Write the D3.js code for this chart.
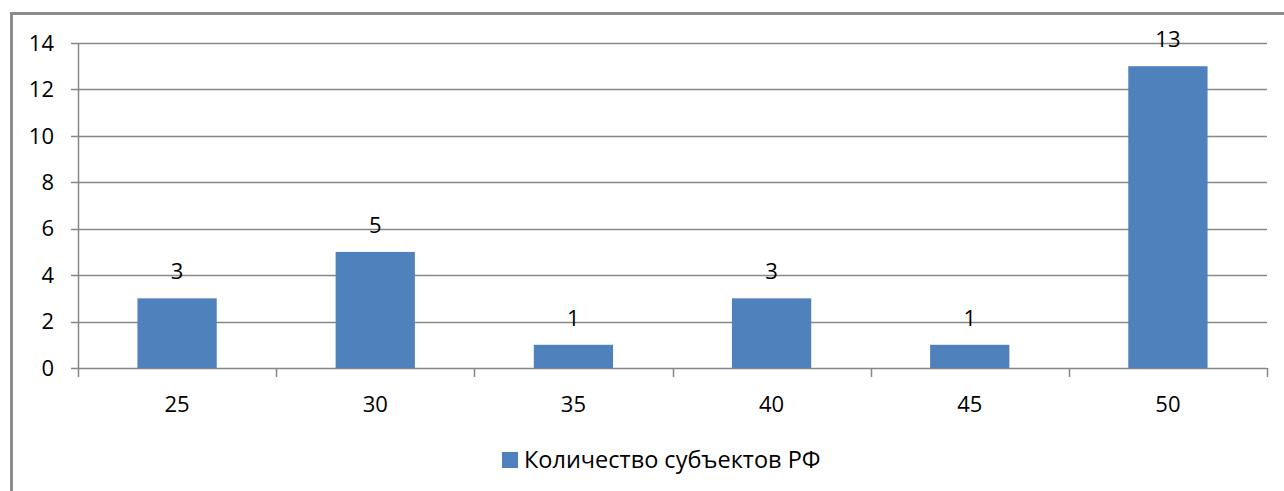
<!DOCTYPE html>
<html>
<head>
<meta charset="utf-8">
<script src="https://cdn.jsdelivr.net/npm/d3@7"></script>
<style>
  body { margin: 0; background: #fff; }
  text { font-family: "Open Sans", sans-serif; fill: #000; }
</style>
</head>
<body>
<script>
// chart data
var categories = ["25", "30", "35", "40", "45", "50"];
var values     = [3, 5, 1, 3, 1, 13];
var yTicks     = [0, 2, 4, 6, 8, 10, 12, 14];
var seriesName = "Количество субъектов РФ";

var width  = 1284;
var height = 491;

var svg = d3.select("body").append("svg")
  .attr("width", width)
  .attr("height", height);

// outer chart frame (only left and top visible, the rest is cut off)
svg.append("path")
  .attr("d", "M11.5,491 V13.5 H1284")
  .attr("fill", "none")
  .attr("stroke", "#8c8c8c")
  .attr("stroke-width", 3);

var plotLeft = 78, plotRight = 1267, plotTop = 43, plotBottom = 368;

var x = d3.scaleBand()
  .domain(categories)
  .range([plotLeft, plotRight])
  .paddingInner(0.6)
  .paddingOuter(0.3);

var y = d3.scaleLinear()
  .domain([0, 14])
  .range([plotBottom, plotTop]);

// gridlines
svg.append("g")
  .selectAll("line")
  .data(yTicks)
  .enter().append("line")
  .attr("x1", plotLeft - 7)
  .attr("x2", plotRight)
  .attr("y1", function(d) { return Math.round(y(d)) + 0.5; })
  .attr("y2", function(d) { return Math.round(y(d)) + 0.5; })
  .attr("stroke", "#878787")
  .attr("stroke-width", 1.5);

// y labels
svg.append("g")
  .selectAll("text")
  .data(yTicks)
  .enter().append("text")
  .attr("x", 54)
  .attr("y", function(d) { return y(d); })
  .attr("dy", "0.35em")
  .attr("text-anchor", "end")
  .style("font-size", "22px")
  .text(function(d) { return d; });

// bars
svg.append("g")
  .selectAll("rect")
  .data(values)
  .enter().append("rect")
  .attr("x", function(d, i) { return x(categories[i]); })
  .attr("y", function(d) { return y(d); })
  .attr("width", x.bandwidth())
  .attr("height", function(d) { return plotBottom - y(d); })
  .attr("fill", "#4f81bd");

// value labels
svg.append("g")
  .selectAll("text")
  .data(values)
  .enter().append("text")
  .attr("x", function(d, i) { return x(categories[i]) + x.bandwidth() / 2; })
  .attr("y", function(d) { return y(d) - 19; })
  .attr("text-anchor", "middle")
  .style("font-size", "22px")
  .text(function(d) { return d; });

// axis lines
var step = (plotRight - plotLeft) / categories.length;
svg.append("line")
  .attr("x1", plotLeft + 0.5).attr("x2", plotLeft + 0.5)
  .attr("y1", plotTop).attr("y2", plotBottom + 9)
  .attr("stroke", "#878787").attr("stroke-width", 1.5);

svg.append("g")
  .selectAll("line")
  .data(d3.range(categories.length))
  .enter().append("line")
  .attr("x1", function(d) { return Math.round(plotLeft + step * (d + 1)) + 0.5; })
  .attr("x2", function(d) { return Math.round(plotLeft + step * (d + 1)) + 0.5; })
  .attr("y1", plotBottom)
  .attr("y2", plotBottom + 9)
  .attr("stroke", "#878787").attr("stroke-width", 1.5);

// category labels
svg.append("g")
  .selectAll("text")
  .data(categories)
  .enter().append("text")
  .attr("x", function(d) { return x(d) + x.bandwidth() / 2; })
  .attr("y", 412)
  .attr("text-anchor", "middle")
  .style("font-size", "22px")
  .text(function(d) { return d; });

// legend
svg.append("rect")
  .attr("x", 502).attr("y", 452)
  .attr("width", 16).attr("height", 16)
  .attr("fill", "#4f81bd");

svg.append("text")
  .attr("x", 524).attr("y", 468)
  .style("font-size", "23.5px")
  .text(seriesName);
</script>
</body>
</html>
